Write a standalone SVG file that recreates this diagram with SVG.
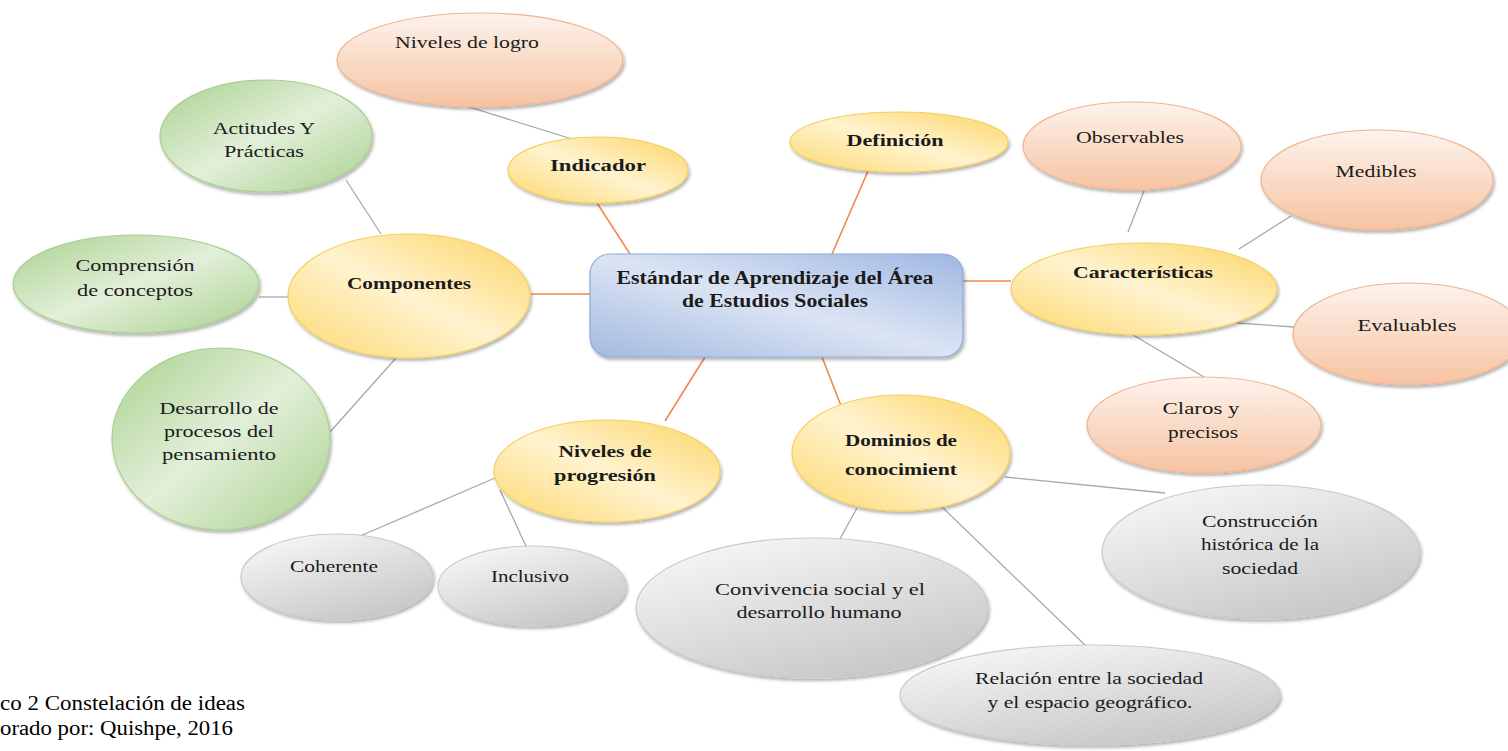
<svg xmlns="http://www.w3.org/2000/svg" width="1508" height="751" viewBox="0 0 1508 751">
<defs>
<style>
.t{font-family:"Liberation Serif","Times New Roman",serif;font-size:16.5px;fill:#1b1b1b;text-anchor:middle}
.b{font-weight:bold;font-size:17px}
.cap{font-family:"Liberation Serif","Times New Roman",serif;font-size:20px;fill:#000}
.or{stroke:#ee8a4c;stroke-width:1.6;fill:none}
.gr{stroke:#a8a8a8;stroke-width:1.3;fill:none}
.y{fill:url(#gy);stroke:#f5cf5e;stroke-width:1.2;filter:url(#sh)}
.p{fill:url(#gp);stroke:#f1b48d;stroke-width:1.2;filter:url(#sh)}
.g{fill:url(#gg);stroke:#a9cf90;stroke-width:1.2;filter:url(#sh)}
.s{fill:url(#gs);stroke:#cacaca;stroke-width:1.2;filter:url(#sh)}
</style>
<linearGradient id="gy" x1="1" y1="0" x2="0" y2="1">
<stop offset="0" stop-color="#fdd463"/><stop offset="0.5" stop-color="#fff3cf"/><stop offset="1" stop-color="#fdd86f"/>
</linearGradient>
<linearGradient id="gp" x1="0" y1="0" x2="0" y2="1">
<stop offset="0" stop-color="#fdf3ed"/><stop offset="1" stop-color="#f6c3a2"/>
</linearGradient>
<linearGradient id="gg" x1="0" y1="0" x2="1" y2="1">
<stop offset="0" stop-color="#a9d18e"/><stop offset="0.5" stop-color="#e2efd9"/><stop offset="1" stop-color="#a9d18e"/>
</linearGradient>
<linearGradient id="gs" x1="0" y1="0" x2="0.6" y2="1">
<stop offset="0" stop-color="#fbfbfb"/><stop offset="1" stop-color="#c9c9c9"/>
</linearGradient>
<linearGradient id="gb" x1="1" y1="0" x2="0" y2="1">
<stop offset="0" stop-color="#9fb7e2"/><stop offset="0.5" stop-color="#dbe4f4"/><stop offset="1" stop-color="#a3badf"/>
</linearGradient>
<filter id="sh" x="-10%" y="-10%" width="125%" height="130%">
<feDropShadow dx="1.5" dy="2.5" stdDeviation="1.5" flood-color="#000" flood-opacity="0.3"/>
</filter>
</defs>
<rect width="1508" height="751" fill="#fff"/>

<g id="connectors">
<line class="or" x1="597" y1="203" x2="630" y2="254"/>
<line class="or" x1="868" y1="171" x2="832" y2="254"/>
<line class="or" x1="531" y1="294" x2="590" y2="294"/>
<line class="or" x1="963" y1="281" x2="1011" y2="281"/>
<line class="or" x1="705" y1="357" x2="665" y2="421"/>
<line class="or" x1="822" y1="357" x2="845" y2="416"/>
<line class="gr" x1="466" y1="106" x2="572" y2="139"/>
<line class="gr" x1="346" y1="180" x2="381" y2="234"/>
<line class="gr" x1="259" y1="297" x2="289" y2="297"/>
<line class="gr" x1="330" y1="432" x2="396" y2="358"/>
<line class="gr" x1="1144" y1="191" x2="1128" y2="232"/>
<line class="gr" x1="1291" y1="216" x2="1239" y2="249"/>
<line class="gr" x1="1237" y1="323" x2="1294" y2="327"/>
<line class="gr" x1="1123" y1="329" x2="1204" y2="377"/>
<line class="gr" x1="495" y1="478" x2="337" y2="546"/>
<line class="gr" x1="500" y1="490" x2="531" y2="557"/>
<line class="gr" x1="857" y1="508" x2="836" y2="546"/>
<line class="gr" x1="941" y1="506" x2="1085" y2="645"/>
<line class="gr" x1="1005" y1="477" x2="1165" y2="493"/>
</g>

<g id="n-logro"><ellipse class="p" cx="480" cy="60" rx="143" ry="47"/><text class="t" x="467" y="48" textLength="144" lengthAdjust="spacingAndGlyphs">Niveles de logro</text></g>
<g id="n-actitudes"><ellipse class="g" cx="266" cy="136" rx="106" ry="56"/><text class="t" x="264" y="134" textLength="102" lengthAdjust="spacingAndGlyphs">Actitudes Y</text><text class="t" x="264" y="157" textLength="80" lengthAdjust="spacingAndGlyphs">Prácticas</text></g>
<g id="n-indicador"><ellipse class="y" cx="598" cy="170" rx="90" ry="33"/><text class="t b" x="598" y="171" textLength="96" lengthAdjust="spacingAndGlyphs">Indicador</text></g>
<g id="n-definicion"><ellipse class="y" cx="899" cy="142" rx="109" ry="30"/><text class="t b" x="895" y="146" textLength="97" lengthAdjust="spacingAndGlyphs">Definición</text></g>
<g id="n-componentes"><ellipse class="y" cx="409" cy="296" rx="121" ry="62"/><text class="t b" x="409" y="289" textLength="124" lengthAdjust="spacingAndGlyphs">Componentes</text></g>
<g id="n-comprension"><ellipse class="g" cx="136" cy="284" rx="123" ry="49"/><text class="t" x="135" y="271" textLength="119" lengthAdjust="spacingAndGlyphs">Comprensión</text><text class="t" x="135" y="296" textLength="116" lengthAdjust="spacingAndGlyphs">de conceptos</text></g>
<g id="n-desarrollo"><ellipse class="g" cx="221" cy="439" rx="109" ry="91"/><text class="t" x="219" y="414" textLength="119" lengthAdjust="spacingAndGlyphs">Desarrollo de</text><text class="t" x="219" y="437" textLength="110" lengthAdjust="spacingAndGlyphs">procesos del</text><text class="t" x="219" y="460" textLength="114" lengthAdjust="spacingAndGlyphs">pensamiento</text></g>
<g id="n-estandar"><rect x="590" y="254" width="373" height="103" rx="20" fill="url(#gb)" stroke="#8eaadb" stroke-width="1.2" filter="url(#sh)"/><text class="t b" x="775" y="284" style="font-size:18px" textLength="317" lengthAdjust="spacingAndGlyphs">Estándar de Aprendizaje del Área</text><text class="t b" x="775" y="307" style="font-size:18px" textLength="186" lengthAdjust="spacingAndGlyphs">de Estudios Sociales</text></g>
<g id="n-caracteristicas"><ellipse class="y" cx="1144" cy="289" rx="133" ry="46"/><text class="t b" x="1143" y="278" textLength="140" lengthAdjust="spacingAndGlyphs">Características</text></g>
<g id="n-observables"><ellipse class="p" cx="1132" cy="146" rx="109" ry="44"/><text class="t" x="1130" y="143" textLength="108" lengthAdjust="spacingAndGlyphs">Observables</text></g>
<g id="n-medibles"><ellipse class="p" cx="1377" cy="180" rx="116" ry="50"/><text class="t" x="1376" y="177" textLength="81" lengthAdjust="spacingAndGlyphs">Medibles</text></g>
<g id="n-evaluables"><ellipse class="p" cx="1408" cy="334" rx="115" ry="51"/><text class="t" x="1407" y="331" textLength="99" lengthAdjust="spacingAndGlyphs">Evaluables</text></g>
<g id="n-claros"><ellipse class="p" cx="1204" cy="425" rx="117" ry="48"/><text class="t" x="1201" y="414" textLength="77" lengthAdjust="spacingAndGlyphs">Claros  y</text><text class="t" x="1203" y="438" textLength="70" lengthAdjust="spacingAndGlyphs">precisos</text></g>
<g id="n-progresion"><ellipse class="y" cx="607" cy="471" rx="113" ry="51"/><text class="t b" x="605" y="457" textLength="93" lengthAdjust="spacingAndGlyphs">Niveles de</text><text class="t b" x="605" y="481" textLength="102" lengthAdjust="spacingAndGlyphs">progresión</text></g>
<g id="n-dominios"><ellipse class="y" cx="901" cy="453" rx="109" ry="58"/><text class="t b" x="901" y="446" textLength="112" lengthAdjust="spacingAndGlyphs">Dominios de</text><text class="t b" x="901" y="475" textLength="112" lengthAdjust="spacingAndGlyphs">conocimient</text></g>
<g id="n-coherente"><ellipse class="s" cx="337" cy="577" rx="96" ry="43"/><text class="t" x="334" y="572" textLength="88" lengthAdjust="spacingAndGlyphs">Coherente</text></g>
<g id="n-inclusivo"><ellipse class="s" cx="532" cy="586" rx="94" ry="40"/><text class="t" x="530" y="582" textLength="78" lengthAdjust="spacingAndGlyphs">Inclusivo</text></g>
<g id="n-convivencia"><ellipse class="s" cx="812" cy="608" rx="176" ry="70"/><text class="t" x="820" y="595" textLength="210" lengthAdjust="spacingAndGlyphs">Convivencia social y el</text><text class="t" x="819" y="618" textLength="165" lengthAdjust="spacingAndGlyphs">desarrollo humano</text></g>
<g id="n-construccion"><ellipse class="s" cx="1261" cy="552" rx="159" ry="67"/><text class="t" x="1260" y="527" textLength="116" lengthAdjust="spacingAndGlyphs">Construcción</text><text class="t" x="1260" y="550" textLength="118" lengthAdjust="spacingAndGlyphs">histórica de la</text><text class="t" x="1260" y="574" textLength="76" lengthAdjust="spacingAndGlyphs">sociedad</text></g>
<g id="n-relacion"><ellipse class="s" cx="1090" cy="695" rx="190" ry="50"/><text class="t" x="1089" y="684" textLength="228" lengthAdjust="spacingAndGlyphs">Relación entre la sociedad</text><text class="t" x="1090" y="708" textLength="205" lengthAdjust="spacingAndGlyphs">y el espacio geográfico.</text></g>

<text class="cap" x="0" y="710" textLength="245" lengthAdjust="spacingAndGlyphs">co 2 Constelación de ideas</text>
<text class="cap" x="0" y="735" textLength="233" lengthAdjust="spacingAndGlyphs">orado por: Quishpe, 2016</text>
</svg>
